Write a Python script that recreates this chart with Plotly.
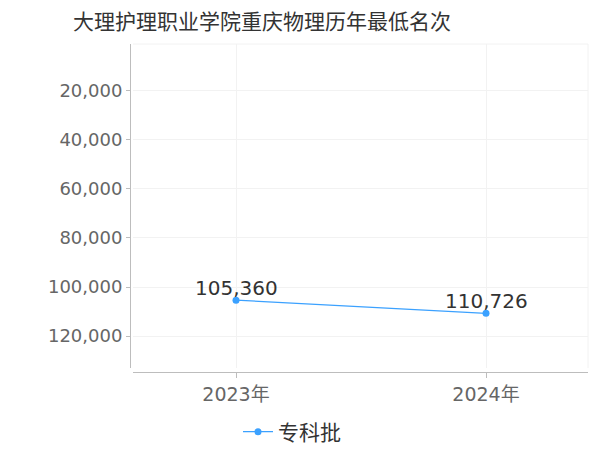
import plotly.graph_objects as go

# data
years = ["2023年", "2024年"]
ranks = [105360, 110726]
series_name = "专科批"
y_ticks = [20000, 40000, 60000, 80000, 100000, 120000]

CJK = "Noto Sans CJK SC, sans-serif"
NUM = "DejaVu Sans, Noto Sans CJK SC, sans-serif"
LINE = "#3ba1ff"
GRID = "#f2f2f2"
AXIS = "#bdbdbd"

# the page body adds an 8px margin, so the figure is 8px smaller than the window
W, H = 592, 442

fig = go.Figure()
fig.add_trace(go.Scatter(
    x=years, y=ranks, mode="lines+markers", name=series_name,
    line=dict(color=LINE, width=1.2),
    marker=dict(size=7, color=LINE),
    cliponaxis=False))

# value labels just above each point
for yr, v in zip(years, ranks):
    fig.add_annotation(x=yr, y=v, text=f"{v:,}", showarrow=False,
                       yanchor="middle", yshift=12,
                       font=dict(size=20, color="#333333", family=NUM))

fig.update_layout(
    width=W, height=H,
    paper_bgcolor="white", plot_bgcolor="white",
    font=dict(family=NUM, color="#666666"),
    title=dict(text="大理护理职业学院重庆物理历年最低名次",
               x=65 / W, xanchor="left", yref="container",
               y=1 - 14 / H, yanchor="middle",
               font=dict(size=21, color="#333333", family=CJK)),
    margin=dict(l=122, r=12, t=36, b=78, autoexpand=False),
    showlegend=True,
    legend=dict(orientation="h", xref="container", x=230 / W, xanchor="left",
                yref="container", y=(H - 424) / H, yanchor="middle",
                font=dict(size=21, color="#333333", family=CJK)),
    xaxis=dict(type="category", range=[-0.412, 1.408], domain=[3 / 458, 1],
               anchor="free", position=0, automargin=False,
               showline=True, linecolor=AXIS, linewidth=1,
               ticks="outside", ticklen=5, tickcolor=AXIS,
               showgrid=True, gridcolor=GRID,
               tickfont=dict(size=19, color="#666666", family=NUM),
               zeroline=False),
    yaxis=dict(range=[133000, 1000], domain=[4 / 328, 1],
               anchor="free", position=0, automargin=False,
               tickvals=y_ticks, tickformat=",",
               showline=True, linecolor=AXIS, linewidth=1,
               ticks="outside", ticklen=4, tickcolor=AXIS,
               showgrid=True, gridcolor=GRID, zeroline=False,
               tickfont=dict(size=18, color="#666666", family=NUM)),
)

# faint frame on the top and right of the plot area
fig.add_shape(type="line", xref="x domain", yref="y domain",
              x0=0, x1=1, y0=1, y1=1, line=dict(color=GRID, width=1))
fig.add_shape(type="line", xref="x domain", yref="y domain",
              x0=1, x1=1, y0=0, y1=1, line=dict(color=GRID, width=1))

fig.write_html("out.html")
